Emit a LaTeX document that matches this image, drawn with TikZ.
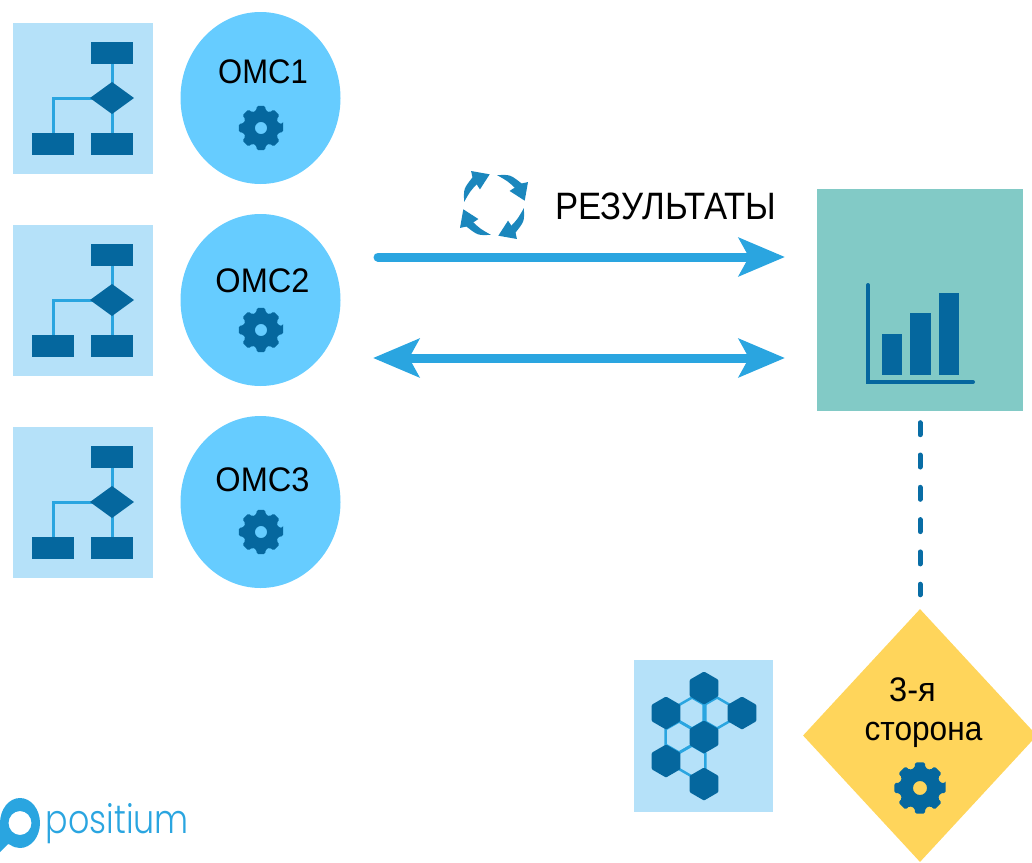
\documentclass[tikz,border=0pt]{standalone}
\usepackage{fontspec}
\setmainfont{Liberation Sans}
\newfontfamily\logofont[UprightFont=* Light]{Poppins}
\usetikzlibrary{arrows.meta,shapes.geometric}
\definecolor{darkblue}{HTML}{05679E}
\definecolor{midblue}{HTML}{2AA5E0}
\definecolor{paleblue}{HTML}{B5E1F9}
\definecolor{skyblue}{HTML}{66CCFF}
\definecolor{teal}{HTML}{82CAC6}
\definecolor{amber}{HTML}{FFD55B}
\definecolor{cyclecol}{HTML}{1B87BD}
\tikzset{
  x=1pt,y=-1pt,
  iconbox/.style={rectangle,fill=paleblue,inner sep=0pt,minimum width=140pt,minimum height=151pt},
  omc/.style={ellipse,fill=skyblue,inner sep=0pt,minimum width=160pt,minimum height=172pt},
  label/.style={text=black,inner sep=0pt,yscale=1.1,font=\fontsize{31}{36}\selectfont},
  bigarrow/.style={draw=midblue,line width=9pt,line cap=round,
    arrows={-{Stealth[length=46pt,width=38pt,inset=10pt,fill=midblue]}}},
  bothways/.style={draw=midblue,line width=9pt,
    arrows={{Stealth[length=46pt,width=38pt,inset=10pt,fill=midblue]}-{Stealth[length=46pt,width=38pt,inset=10pt,fill=midblue]}}},
  pics/gear/.style={code={
    \fill[darkblue,even odd rule,rounded corners=1.5pt]
      (-11:1)
      \foreach \a in {0,45,...,315}{
        -- (\a-11:1) -- (\a+11:1) -- (\a+15:.8) -- (\a+30:.8)
      } -- cycle (0,0) circle (.27);
  }},
  pics/flow/.style={code={
    \draw[midblue,line width=3pt] (99,-11) -- (99,60);
    \draw[midblue,line width=3pt] (99,25) -- (40,25) -- (40,60);
    \fill[darkblue] (78,-31) rectangle (120,-9);
    \fill[darkblue] (19,60) rectangle (61,82);
    \fill[darkblue] (78,60) rectangle (120,82);
    \fill[darkblue] (77,25) -- (99,9) -- (121,25) -- (99,41) -- cycle;
  }},
  pics/hexcell/.style={code={
    \foreach \a in {30,90,...,330}{\coordinate (h\a) at (\a:15.5);}
    \draw[midblue,line width=2.5pt,line join=round] (h30)--(h90)--(h150)--(h210)--(h270)--(h330)--cycle;
  }},
  pics/hexfull/.style={code={
    \fill[darkblue,rounded corners=1pt] (30:16.5)--(90:16.5)--(150:16.5)--(210:16.5)--(270:16.5)--(330:16.5)--cycle;
  }},
  pics/cycarrow/.style={code={
    \fill[cyclecol] (186:30) .. controls (208:34.5) .. (232:35) -- (236:41) -- (262:31) -- (228:21) -- (230:27) .. controls (210:27.5) .. (186:30) -- cycle;
  }},
}
\begin{document}
\begin{tikzpicture}
\useasboundingbox (0,0) rectangle (1032,862);
% flow icons
\node[iconbox] (box1) at (83,98.5) {};
\node[iconbox] (box2) at (83,300.5) {};
\node[iconbox] (box3) at (83,502.5) {};
\pic at (13,73) {flow};
\pic at (13,275) {flow};
\pic at (13,477) {flow};
% circles
\node[omc] (omc1) at (260.5,98) {};
\node[omc] (omc2) at (260.5,300) {};
\node[omc] (omc3) at (260.5,502) {};
\node[label] (t1) at (263,72) {ОМС1};
\node[label,xscale=1.05] (t2) at (262.5,281) {ОМС2};
\node[label,xscale=1.05] (t3) at (262.5,480) {ОМС3};
\pic[scale=22.5] at (261,128) {gear};
\pic[scale=22.5] at (261,330) {gear};
\pic[scale=22.5] at (261,532) {gear};
% chart box
\node[rectangle,fill=teal,inner sep=0pt,minimum width=206pt,minimum height=222pt] (chart) at (920,300) {};
\draw[darkblue,line width=4pt,line cap=round,line join=miter] (868,285) -- (868,382) -- (973,382);
\fill[darkblue] (882,334) rectangle (902,375);
\fill[darkblue] (910,313) rectangle (931,375);
\fill[darkblue] (939,293) rectangle (959,375);
% arrows
\coordinate (a1s) at (378,257);
\coordinate (a1e) at (785,257);
\coordinate (a2s) at (373,358);
\coordinate (a2e) at (785,358);
\draw[bigarrow] (a1s) -- (a1e);
\draw[bothways] (a2s) -- (a2e);
\node[label,xscale=1.02,font=\fontsize{34}{40}\selectfont,yscale=1.02] (res) at (666,206) {РЕЗУЛЬТАТЫ};
% cycle
\coordinate (cyc) at (494,205);
\pic[rotate=0] at (cyc) {cycarrow};
\pic[rotate=90] at (cyc) {cycarrow};
\pic[rotate=180] at (cyc) {cycarrow};
\pic[rotate=270] at (cyc) {cycarrow};
% third party
\node[diamond,fill=amber,inner sep=0pt,minimum width=234pt,minimum height=253pt] (third) at (920,735.5) {};
\node[label,xscale=1.05] (t4) at (912.5,690) {3-я};
\node[label,xscale=1.02] (t5) at (923.5,735) {сторона};
\pic[scale=26] at (920,788) {gear};
\draw[darkblue!90!midblue,line width=5pt,line cap=round,dash pattern=on 12pt off 20.3pt,shorten <=11.5pt,shorten >=14pt] (chart.south) -- (third.north);
% hex icon
\node[rectangle,fill=paleblue,inner sep=0pt,minimum width=139pt,minimum height=152pt] (hexbox) at (703.5,736) {};
\pic at (692,713) {hexcell};
\pic at (717,713) {hexcell};
\pic at (679,737) {hexcell};
\pic at (692,761) {hexcell};
\pic at (704,688) {hexfull};
\pic at (666,713) {hexfull};
\pic at (742,713) {hexfull};
\pic at (704,737) {hexfull};
\pic at (666,761) {hexfull};
\pic at (704,784) {hexfull};
% logo
\fill[midblue,even odd rule] (0,852) -- (0,823) arc[start angle=180,end angle=360,x radius=20,y radius=25] arc[start angle=0,end angle=120,x radius=20,y radius=25] -- (8,844) -- cycle
  (20,823) ellipse[x radius=11.5,y radius=12];
\node[inner sep=0pt,text=midblue,yscale=1.2,font=\logofont\fontsize{33.3}{40}\selectfont] (logo) at (117.5,824) {positium};
\end{tikzpicture}
\end{document}
